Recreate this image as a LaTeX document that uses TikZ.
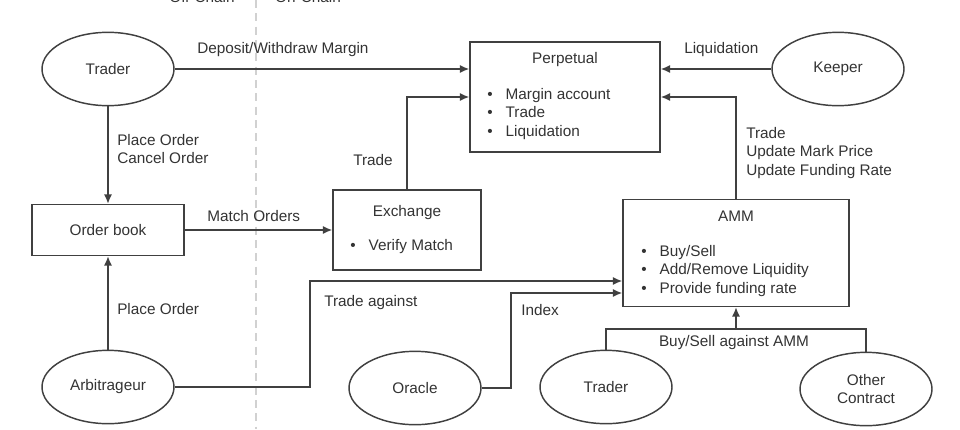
\documentclass[tikz,border=0pt]{standalone}
\usepackage{fontspec}
\setmainfont{Liberation Sans}
\usetikzlibrary{arrows.meta,shapes.geometric}
\newcommand\bul{\makebox[13.8pt][l]{\textbullet}}
\begin{document}
\begin{tikzpicture}[x=0.75pt,y=-0.75pt,
  every node/.style={font=\fontsize{11.5}{14}\selectfont, text=black!80},
  ln/.style={draw=black!75, line width=1.1pt},
  arr/.style={ln, -{Latex[length=7pt,width=6pt]}},
  oval/.style={ln, ellipse, minimum width=99pt, minimum height=55pt, inner sep=0pt, align=center},
  boxn/.style={ln, rectangle, inner sep=0pt},
  lbl/.style={anchor=west, inner sep=0pt, align=left},
  divider/.style={draw=black!18, line width=1pt, dash pattern=on 6pt off 4pt},
]
\useasboundingbox (0,0) rectangle (960,429);
\clip (0,0) rectangle (960,429);

% divider between off-chain and on-chain
\coordinate (dTop) at (256,0);
\coordinate (dBot) at (256,429);
\draw[divider] (dTop) -- (dBot);
\node[anchor=base, inner sep=0pt] (off) at (202,2.5) {Off-Chain};
\node[anchor=base, inner sep=0pt] (on) at (308,2.5) {On-Chain};

% ellipses
\node[oval] (trader1) at (108,69) {Trader};
\node[oval] (keeper) at (838,69) {Keeper};
\node[oval] (arb) at (108,387) {Arbitrageur};
\node[oval] (oracle) at (415,388) {Oracle};
\node[oval] (trader2) at (606,387) {Trader};
\node[oval] (other) at (866,389) {Other\\Contract};

% boxes
\node[boxn, minimum width=142.5pt, minimum height=82.5pt] (perp) at (565,97) {};
\node (perpT) at (565,60) {Perpetual};
\node[lbl] (perpL) at (487,114) {\bul Margin account\\\bul Trade\\\bul Liquidation};

\node[boxn, minimum width=111pt, minimum height=60pt] (exch) at (407,230) {};
\node (exT) at (407,213) {Exchange};
\node[lbl] (exL) at (350,247) {\bul Verify Match};

\node[boxn, minimum width=169.5pt, minimum height=80.25pt] (amm) at (736,253) {};
\node (ammT) at (736,216) {AMM};
\node[lbl] (ammL) at (641,271) {\bul Buy/Sell\\\bul Add/Remove Liquidity\\\bul Provide funding rate};

\node[boxn, minimum width=114pt, minimum height=38.25pt] (obook) at (108,230) {Order book};

% labels
\node[lbl] (lDep) at (197,50) {Deposit/Withdraw Margin};
\node[lbl] (lLiq) at (684,50) {Liquidation};
\node[lbl] (lTr) at (353,160) {Trade};
\node[lbl] (lAmmP) at (746,153) {Trade\\Update Mark Price\\Update Funding Rate};
\node[lbl] (lPC) at (117,149) {Place Order\\Cancel Order};
\node[lbl] (lMO) at (207,216) {Match Orders};
\node[lbl] (lPO) at (117,309) {Place Order};
\node[lbl] (lTA) at (324,303) {Trade against};
\node[lbl] (lIdx) at (521,310) {Index};
\node[inner sep=0pt] (lBS) at (734,343) {Buy/Sell against AMM};

% connectors
\draw[arr] (trader1) -- (trader1 -| perp.west);
\draw[arr] (keeper) -- (keeper -| perp.east);
\draw[arr] (exch.north) |- (perp.west);
\draw[arr] (amm.north) |- (perp.east);
\draw[arr] (trader1.south) -- (obook.north);
\draw[arr] (obook) -- (exch);
\draw[arr] (arb.north) -- (obook.south);
\coordinate (taK) at (310,281);
\draw[arr] (arb.east) -| (taK) -- (taK -| amm.west);
\coordinate (ixK) at (511,293);
\draw[arr] (oracle.east) -| (ixK) -- (ixK -| amm.west);
\coordinate (bsK) at (736,329);
\draw[ln] (trader2.north) |- (bsK) -| (other.north);
\draw[arr] (bsK) -- (amm.south);
\end{tikzpicture}
\end{document}
